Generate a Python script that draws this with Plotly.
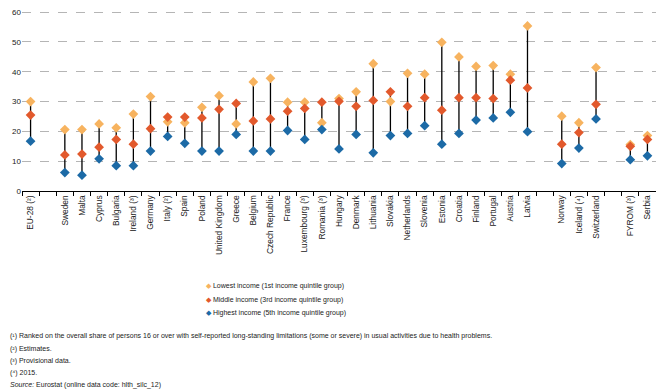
import plotly.graph_objects as go

categories = ["EU-28 (²)", " ", "Sweden", "Malta", "Cyprus", "Bulgaria", "Ireland (³)", "Germany",
              "Italy (²)", "Spain", "Poland", "United Kingdom", "Greece", "Belgium", "Czech Republic",
              "France", "Luxembourg (³)", "Romania (³)", "Hungary", "Denmark", "Lithuania", "Slovakia",
              "Netherlands", "Slovenia", "Estonia", "Croatia", "Finland", "Portugal", "Austria", "Latvia",
              "  ", "Norway", "Iceland (⁴)", "Switzerland", "   ", "FYROM (³)", "Serbia"]

lowest = [30.0, None, 20.6, 20.6, 22.5, 21.2, 25.8, 31.7, 23.2, 22.9, 28.1, 32.0, 22.5, 36.6, 37.8,
          29.8, 29.8, 22.9, 31.0, 33.3, 42.7, 30.0, 39.5, 39.2, 49.9, 45.0, 41.8, 42.1, 39.2, 55.4,
          None, 25.1, 22.9, 41.4, None, 15.6, 18.6]
middle = [25.5, None, 12.1, 12.4, 14.7, 17.3, 15.7, 20.9, 24.8, 24.8, 24.5, 27.4, 29.4, 23.5, 24.2,
          26.8, 27.7, 29.8, 30.1, 28.4, 30.4, 33.3, 28.4, 31.3, 27.1, 31.3, 31.3, 31.0, 37.2, 34.6,
          None, 15.7, 19.6, 29.1, None, 15.0, 17.3]
highest = [16.7, None, 6.2, 5.3, 10.8, 8.5, 8.5, 13.4, 18.3, 16.0, 13.4, 13.4, 19.0, 13.4, 13.4,
           20.3, 17.3, 20.6, 14.1, 19.0, 12.8, 18.6, 19.3, 21.9, 15.7, 19.3, 23.8, 24.5, 26.4, 19.9,
           None, 9.2, 14.4, 24.2, None, 10.5, 11.8]

series_names = ["Lowest income (1st income quintile group)",
                "Middle income (3rd income quintile group)",
                "Highest income (5th income quintile group)"]
colors = ["#F7B35F", "#E2592C", "#1C6AA6"]

footnotes = [
    "(¹) Ranked on the overall share of persons 16 or over with self-reported long-standing limitations (some or severe) in usual activities due to health problems.",
    "(²) Estimates.",
    "(³) Provisional data.",
    "(⁴) 2015.",
    "<i>Source:</i> Eurostat (online data code: hlth_silc_12)",
]

# range lines (min to max of each category)
lx, ly = [], []
for c, a, b, d in zip(categories, lowest, middle, highest):
    vals = [v for v in (a, b, d) if v is not None]
    if vals:
        lx += [c, c, None]
        ly += [min(vals), max(vals), None]

fig = go.Figure()
fig.add_trace(go.Scatter(x=lx, y=ly, mode="lines", line=dict(color="black", width=1.3),
                         showlegend=False, hoverinfo="skip"))
for name, vals, col in zip(series_names, [lowest, middle, highest], colors):
    fig.add_trace(go.Scatter(x=categories, y=vals, mode="markers", name=name, showlegend=False,
                             marker=dict(symbol="diamond", size=7.5, color=col,
                                         line=dict(width=0))))

# page has an 8px body margin; work in page pixels
OFF = 8
W, H = 664 - OFF, 391 - OFF
plot_top, plot_bottom = 11, 191      # page pixels
plot_left, plot_right = 22, 656
top = plot_top - OFF
bottom = H - (plot_bottom - OFF)
L = plot_left - OFF
R = W - (plot_right - OFF)
ph = plot_bottom - plot_top
pw = plot_right - plot_left

def py(pix):
    return (plot_bottom - pix) / ph

def px(pix):
    return (pix - plot_left) / pw

fig.update_layout(
    width=W, height=H,
    margin=dict(l=L, r=R, t=top, b=bottom, autoexpand=False),
    paper_bgcolor="white", plot_bgcolor="white",
    font=dict(family="Liberation Sans, Arial, sans-serif", size=8, color="#222"),
    showlegend=False,
)
fig.update_xaxes(type="category", categoryorder="array", categoryarray=categories,
                 tickangle=-90, showline=True, linecolor="black", linewidth=1,
                 ticks="outside", ticklen=4, tickcolor="black", tickson="boundaries",
                 showgrid=False, tickfont=dict(size=8.4, color="#222"),
                 range=[-0.5, len(categories) - 0.5], automargin=False)
fig.update_yaxes(range=[0, 60.4], tickvals=[0, 10, 20, 30, 40, 50, 60], showgrid=True,
                 gridcolor="#b5b5b5", griddash="dash", gridwidth=1, zeroline=False,
                 showline=False, ticks="", tickfont=dict(size=8, color="#222"),
                 automargin=False, ticklabeloverflow="allow")

# legend (manual)
leg_y = [286, 299.5, 313]
for name, col, yv in zip(series_names, colors, leg_y):
    fig.add_annotation(text=f'<span style="color:{col}">◆</span> {name}',
                       xref="paper", yref="paper", x=px(204), y=py(yv),
                       xanchor="left", yanchor="middle", showarrow=False,
                       font=dict(size=7, color="#222"))

ys = [336, 348.5, 360.5, 372.5, 384.5]
for t, yv in zip(footnotes, ys):
    fig.add_annotation(text=t, xref="paper", yref="paper", x=px(8), y=py(yv),
                       xanchor="left", yanchor="middle", showarrow=False,
                       font=dict(size=7, color="#222"))

fig.write_html("out.html")
